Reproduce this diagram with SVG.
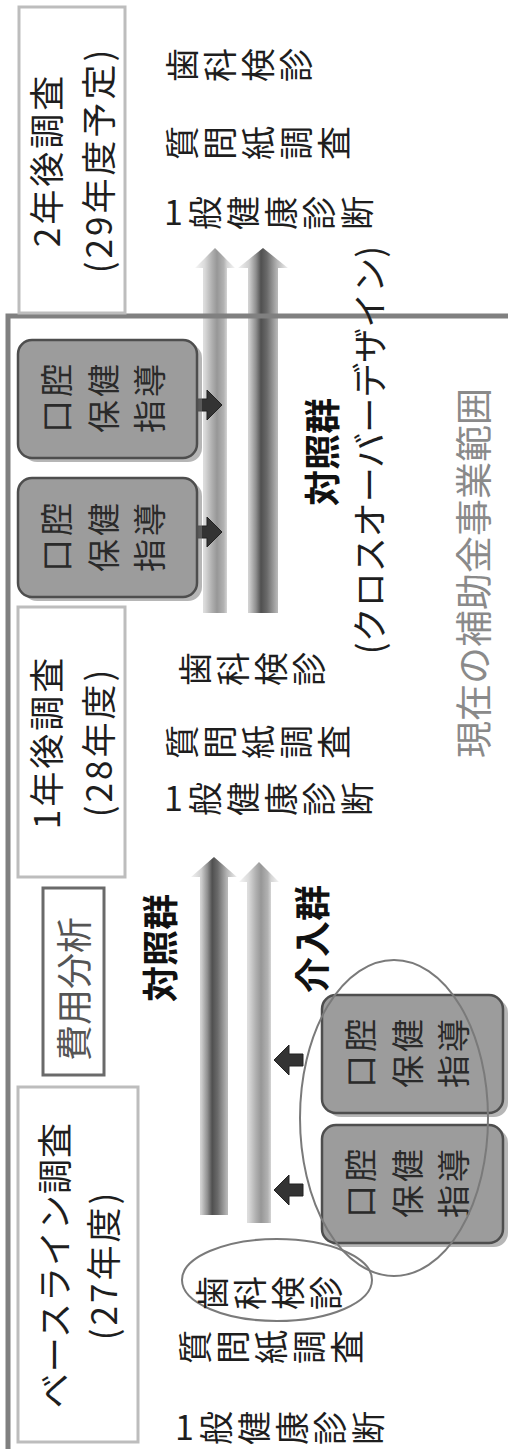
<svg xmlns="http://www.w3.org/2000/svg" width="508" height="1449" viewBox="0 0 508 1449">
<style>
.t{font-family:"Noto Sans CJK JP","Noto Sans CJK SC",sans-serif;fill:#1e1e1e;dominant-baseline:central}
.rt{font-family:"Noto Sans CJK JP","Noto Sans CJK SC",sans-serif;fill:#1e1e1e;font-size:34px;letter-spacing:4px}
.hdr{fill:#fff;stroke:#bdbdbd;stroke-width:3}
.h{font-size:35px;letter-spacing:1px;text-anchor:middle}
.h2{font-size:35px;letter-spacing:3px;text-anchor:middle}
.box{fill:#9c9c9c;stroke:#4e4e4e;stroke-width:2.5}
.shd{fill:#7a7a7a;opacity:.55}
.bt{font-size:33px;letter-spacing:3px;fill:#2a2a2a;text-anchor:middle}
.lbl{font-size:36px;font-weight:bold;text-anchor:middle;fill:#111}
.sa{fill:#333;stroke:#222;stroke-width:1}
.ell{fill:none;stroke:#7a7a7a;stroke-width:2}
</style>
<defs>
<linearGradient id="gDark" x1="0" y1="0" x2="0" y2="1">
<stop offset="0" stop-color="#f2f2f2"/>
<stop offset="0.22" stop-color="#d0d0d0"/>
<stop offset="0.36" stop-color="#8e8e8e"/>
<stop offset="0.46" stop-color="#505050"/>
<stop offset="0.58" stop-color="#6a6a6a"/>
<stop offset="0.78" stop-color="#b4b4b4"/>
<stop offset="1" stop-color="#f0f0f0"/>
</linearGradient>
<linearGradient id="gLight" x1="0" y1="0" x2="0" y2="1">
<stop offset="0" stop-color="#f6f6f6"/>
<stop offset="0.24" stop-color="#dadada"/>
<stop offset="0.42" stop-color="#b0b0b0"/>
<stop offset="0.55" stop-color="#979797"/>
<stop offset="0.72" stop-color="#b2b2b2"/>
<stop offset="0.8" stop-color="#d4d4d4"/>
<stop offset="1" stop-color="#f4f4f4"/>
</linearGradient>
<path id="sarrow" d="M0,-6 H14 V-15 L29,0 L14,15 V6 H0 Z"/>
</defs>
<g transform="translate(0,1449) rotate(-90)">

<g id="connectors">
<path d="M234,200 H572 V191 L592,214 L572,237 V228 H234 Z" fill="url(#gDark)"/>
<path d="M226,247 H567 V239 L587,259 L567,279 V271 H226 Z" fill="url(#gLight)"/>
<path d="M836,203 H1181 V195 L1201,215 L1181,235 V227 H836 Z" fill="url(#gLight)"/>
<path d="M836,248 H1181 V238 L1201,263 L1181,288 V278 H836 Z" fill="url(#gDark)"/>
<use href="#sarrow" class="sa" transform="translate(1044,193) rotate(90)"/>
<use href="#sarrow" class="sa" transform="translate(917,193) rotate(90)"/>
<use href="#sarrow" class="sa" transform="translate(389,303) rotate(-90)"/>
<use href="#sarrow" class="sa" transform="translate(259,303) rotate(-90)"/>
</g>

<g id="scope">
<rect x="-20" y="8" width="1153" height="540" fill="none" stroke="#808080" stroke-width="5"/>
<text class="t" x="876" y="472" style="font-size:37px;fill:#8a8a8a;text-anchor:middle">現在の補助金事業範囲</text>
</g>

<g id="baseline">
<rect class="hdr" x="7" y="18" width="355" height="120"/>
<text class="t h" x="184" y="52">ベースライン調査</text>
<text class="t h2" x="184" y="101">(27年度)</text>
</g>

<g id="cost">
<rect x="374" y="43" width="187" height="61" fill="#fff" stroke="#6a6a6a" stroke-width="3"/>
<text class="t" x="460" y="72" style="font-size:36px;fill:#555;text-anchor:middle">費用分析</text>
</g>

<g id="year1">
<rect class="hdr" x="572" y="18" width="270" height="107"/>
<text class="t h2" x="707" y="44">1年後調査</text>
<text class="t h2" x="707" y="96">(28年度)</text>
</g>

<g id="year2">
<rect class="hdr" x="1136" y="19" width="306" height="106"/>
<text class="t h2" x="1289" y="44">2年後調査</text>
<text class="t h2" x="1289" y="96">(29年度予定)</text>
</g>

<g id="guide-t1">
<rect class="shd" x="987" y="23" width="118" height="179" rx="14"/>
<rect class="box" x="991" y="18" width="118" height="179" rx="14"/>
<text class="t bt" x="1052" y="55">口腔</text>
<text class="t bt" x="1052" y="102">保健</text>
<text class="t bt" x="1052" y="148">指導</text>
</g>
<g id="guide-t2">
<rect class="shd" x="848" y="23" width="119" height="179" rx="14"/>
<rect class="box" x="852" y="18" width="119" height="179" rx="14"/>
<text class="t bt" x="913" y="55">口腔</text>
<text class="t bt" x="913" y="102">保健</text>
<text class="t bt" x="913" y="148">指導</text>
</g>
<g id="guide-b1">
<rect class="shd" x="332" y="327" width="118" height="181" rx="14"/>
<rect class="box" x="336" y="322" width="118" height="181" rx="14"/>
<text class="t bt" x="397" y="359">口腔</text>
<text class="t bt" x="397" y="406">保健</text>
<text class="t bt" x="397" y="452">指導</text>
</g>
<g id="guide-b2">
<rect class="shd" x="202" y="327" width="118" height="181" rx="14"/>
<rect class="box" x="206" y="322" width="118" height="181" rx="14"/>
<text class="t bt" x="267" y="359">口腔</text>
<text class="t bt" x="267" y="406">保健</text>
<text class="t bt" x="267" y="452">指導</text>
</g>

<g id="intervention-group">
<ellipse class="ell" cx="331" cy="394" rx="158" ry="94"/>
<text class="t lbl" x="510" y="310">介入群</text>
</g>
<g id="control-group">
<text class="t lbl" x="501" y="158">対照群</text>
</g>
<g id="crossover">
<text class="t lbl" x="997" y="320">対照群</text>
<text class="t" x="999" y="367" style="font-size:35px;text-anchor:middle">(クロスオーバーデザイン)</text>
</g>
<g id="exam-baseline-ring">
<ellipse class="ell" cx="169" cy="277" rx="41" ry="95"/>
</g>
</g>

<g id="exam-year2">
<text class="rt" x="195" y="82" rotate="-90">歯科検診</text>
<text class="rt" x="195" y="160" rotate="-90">質問紙調査</text>
<text class="rt" x="164" y="225" rotate="0 -90" dx="0 31" dy="0 5">1般健康診断</text>
</g>
<g id="exam-year1">
<text class="rt" x="208" y="686" rotate="-90">歯科検診</text>
<text class="rt" x="195" y="759" rotate="-90">質問紙調査</text>
<text class="rt" x="164" y="811" rotate="0 -90" dx="0 31" dy="0 5">1般健康診断</text>
</g>
<g id="exam-baseline">
<text class="rt" x="225" y="1310" rotate="-90">歯科検診</text>
<text class="rt" x="208" y="1364" rotate="-90">質問紙調査</text>
<text class="rt" x="175" y="1440" rotate="0 -90" dx="0 31" dy="0 5">1般健康診断</text>
</g>
</svg>
